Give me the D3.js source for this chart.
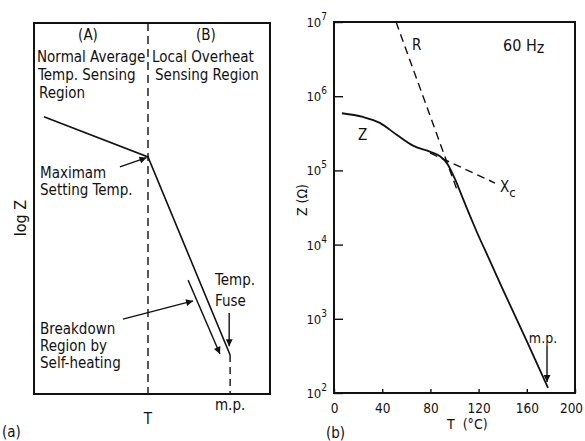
<!DOCTYPE html>
<html>
<head>
<meta charset="utf-8">
<script src="https://cdn.jsdelivr.net/npm/d3@7"></script>
<style>
  html, body { margin: 0; padding: 0; background: #fff; }
  svg { display: block; }
  text { font-family: "DejaVu Sans Condensed", "Liberation Sans Narrow", "Liberation Sans", sans-serif; fill: #111; }
</style>
</head>
<body>
<svg id="fig" width="585" height="441"></svg>
<script>
// ---- Panel (a): schematic log Z vs T, abstract 0..100 units ----
const schemTemp = [4.2, 48.3, 83.1];      // start, max setting temp, melting point
const schemLogZ = [74.7, 63.9, 10.5];
const setTemp = 48.3;                      // boundary between regions (A) and (B)
const meltTemp = 83.1;                     // m.p.
const breakdownTemp = [65.3, 78.8];        // self-heating breakdown arrow
const breakdownLogZ = [30.7, 10.8];

// ---- Panel (b): measured impedance at 60 Hz ----
const zTemp  = [6.6, 24, 38, 52, 66, 80, 88, 94, 100, 106, 112, 118, 130, 140, 160, 177.6];
const zValue = [589000, 525000, 437000, 302000, 214000, 178000, 155000, 123000, 79000, 45700, 26300, 15500, 5750, 2510, 500, 117];
const rTemp  = [51.5, 102];
const rValue = [1e7, 55000];
const xcTemp  = [79.7, 133.6];
const xcValue = [172000, 67600];
const tTicks = [0, 40, 80, 120, 160, 200];
const zTicks = [1e2, 1e3, 1e4, 1e5, 1e6, 1e7];
const zTickExp = ["2", "3", "4", "5", "6", "7"];
const meltPoint = 177.6;

const svg = d3.select("#fig");
const ink = "#111";

function addArrow(id) {
  svg.append("defs").append("marker")
    .attr("id", id).attr("viewBox", "0 0 10 10")
    .attr("refX", 10).attr("refY", 5)
    .attr("markerWidth", 9).attr("markerHeight", 7)
    .attr("markerUnits", "userSpaceOnUse")
    .attr("orient", "auto")
    .append("path").attr("d", "M0,0 L10,5 L0,10 Z").attr("fill", ink);
}
addArrow("head");

// ================= Panel (a) =================
const ax = d3.scaleLinear().domain([0, 100]).range([34, 270]);
const ay = d3.scaleLinear().domain([0, 100]).range([394, 23]);
const gA = svg.append("g");

gA.append("rect").attr("x", ax(0)).attr("y", ay(100))
  .attr("width", ax(100) - ax(0)).attr("height", ay(0) - ay(100))
  .attr("fill", "none").attr("stroke", ink).attr("stroke-width", 2);

// region boundary
gA.append("line").attr("x1", ax(setTemp)).attr("x2", ax(setTemp))
  .attr("y1", ay(100)).attr("y2", ay(0))
  .attr("stroke", ink).attr("stroke-width", 1.4).attr("stroke-dasharray", "8,5");

// log Z characteristic
const lineA = d3.line().x(d => ax(d[0])).y(d => ay(d[1]));
gA.append("path").datum(schemTemp.map((t, i) => [t, schemLogZ[i]]))
  .attr("d", lineA).attr("fill", "none").attr("stroke", ink).attr("stroke-width", 1.6);

// melting point drop line
gA.append("line").attr("x1", ax(meltTemp)).attr("x2", ax(meltTemp))
  .attr("y1", ay(schemLogZ[2])).attr("y2", ay(0))
  .attr("stroke", ink).attr("stroke-width", 1.4).attr("stroke-dasharray", "7,5");

// breakdown region arrow
gA.append("line").attr("x1", ax(breakdownTemp[0])).attr("y1", ay(breakdownLogZ[0]))
  .attr("x2", ax(breakdownTemp[1])).attr("y2", ay(breakdownLogZ[1]))
  .attr("stroke", ink).attr("stroke-width", 1.4).attr("marker-end", "url(#head)");

// annotation arrows
function arrowA(x1, y1, x2, y2) {
  gA.append("line").attr("x1", ax(x1)).attr("y1", ay(y1)).attr("x2", ax(x2)).attr("y2", ay(y2))
    .attr("stroke", ink).attr("stroke-width", 1.4).attr("marker-end", "url(#head)");
}
arrowA(36.4, 61.2, setTemp - 0.6, schemLogZ[1] - 0.2);   // Maximam Setting Temp.
arrowA(37.7, 20.2, 67.4, 25.1);                          // Breakdown region
arrowA(meltTemp - 0.4, 21.8, meltTemp - 0.4, 12.9);      // Temp. Fuse

function txt(g, x, y, s, size, anchor) {
  return g.append("text").attr("x", x).attr("y", y).attr("font-size", size)
    .attr("text-anchor", anchor || "start").text(s);
}
const fs = 15;
txt(gA, 88, 40, "(A)", fs, "middle");
txt(gA, 206, 40, "(B)", fs, "middle");
txt(gA, 37, 62, "Normal Average", fs);
txt(gA, 38, 80, "Temp. Sensing", fs);
txt(gA, 39, 98, "Region", fs);
txt(gA, 152, 62, "Local Overheat", fs);
txt(gA, 155, 80, "Sensing Region", fs);
txt(gA, 40, 178, "Maximam", fs);
txt(gA, 40, 195, "Setting Temp.", fs);
txt(gA, 215, 285, "Temp.", fs);
txt(gA, 215, 306, "Fuse", fs);
txt(gA, 40, 334, "Breakdown", fs);
txt(gA, 40, 351, "Region by", fs);
txt(gA, 40, 368, "Self-heating", fs);
txt(gA, ax(meltTemp), 410, "m.p.", fs, "middle");
txt(gA, ax(setTemp), 424, "T", fs, "middle");
txt(gA, 2, 437, "(a)", fs);
gA.append("text").attr("transform", "translate(26,218) rotate(-90)")
  .attr("font-size", fs + 1).attr("text-anchor", "middle").text("log Z");

// ================= Panel (b) =================
const bx = d3.scaleLinear().domain([0, 200]).range([334, 575]);
const by = d3.scaleLog().domain([1e2, 1e7]).range([393, 22]);
const gB = svg.append("g");

gB.append("rect").attr("x", bx(0)).attr("y", by(1e7))
  .attr("width", bx(200) - bx(0)).attr("height", by(1e2) - by(1e7))
  .attr("fill", "none").attr("stroke", ink).attr("stroke-width", 2);

// x axis: inward ticks on the bottom edge
const xAxis = gB.append("g").attr("transform", `translate(0,${by(1e2)})`)
  .call(d3.axisBottom(bx).tickValues(tTicks).tickSize(-4).tickPadding(10).tickFormat(d3.format("d")));
xAxis.select(".domain").remove();
xAxis.selectAll("line").attr("stroke", ink).attr("stroke-width", 1.4);
xAxis.selectAll("text").attr("font-size", 13.5).attr("fill", ink)
  .style("font-family", '"DejaVu Sans Condensed", "Liberation Sans Narrow", sans-serif')
  .attr("dx", d => d === 200 ? -4 : 0);

// y axis: decade ticks with power-of-ten labels
const yAxis = gB.append("g").attr("transform", `translate(${bx(0)},0)`)
  .call(d3.axisLeft(by).tickValues(zTicks).tickSize(-9).tickFormat(() => ""));
yAxis.select(".domain").remove();
yAxis.selectAll("line").attr("stroke", ink).attr("stroke-width", 1.4);
zTicks.forEach((v, i) => {
  const t = gB.append("text").attr("x", 327).attr("y", by(v) + 5)
    .attr("text-anchor", "end").attr("font-size", 13);
  t.append("tspan").text("10");
  t.append("tspan").attr("dy", -7).attr("font-size", 10).text(zTickExp[i]);
});

// Z, R and Xc curves
const lineB = d3.line().x(d => bx(d[0])).y(d => by(d[1])).curve(d3.curveMonotoneX);
gB.append("path").datum(zTemp.map((t, i) => [t, zValue[i]]))
  .attr("d", lineB).attr("fill", "none").attr("stroke", ink).attr("stroke-width", 1.8);
gB.append("path").datum(rTemp.map((t, i) => [t, rValue[i]]))
  .attr("d", d3.line().x(d => bx(d[0])).y(d => by(d[1])))
  .attr("fill", "none").attr("stroke", ink).attr("stroke-width", 1.4).attr("stroke-dasharray", "8,5");
gB.append("path").datum(xcTemp.map((t, i) => [t, xcValue[i]]))
  .attr("d", d3.line().x(d => bx(d[0])).y(d => by(d[1])))
  .attr("fill", "none").attr("stroke", ink).attr("stroke-width", 1.4).attr("stroke-dasharray", "8,5");

// melting point arrow
gB.append("line").attr("x1", bx(meltPoint) - 1).attr("x2", bx(meltPoint) - 1)
  .attr("y1", 346).attr("y2", 382)
  .attr("stroke", ink).attr("stroke-width", 1.4).attr("marker-end", "url(#head)");

txt(gB, 543, 343, "m.p.", 14, "middle");
txt(gB, 412, 50, "R", 15);
txt(gB, 358, 140, "Z", 15);
const xc = txt(gB, 500, 192, "X", 15);
xc.append("tspan").attr("dy", 5).attr("font-size", 13).text("c");
const hz = txt(gB, 503, 51, "60 H", 16);
hz.append("tspan").attr("dy", 2).text("z");
const tl = txt(gB, 447, 429, "T", 14);
tl.append("tspan").attr("dx", 8).text("(°C)");
txt(gB, 326, 438, "(b)", 15);
gB.append("text").attr("transform", "translate(307,200) rotate(-90)")
  .attr("font-size", 14).attr("text-anchor", "middle").text("Z (Ω)");
</script>
</body>
</html>
